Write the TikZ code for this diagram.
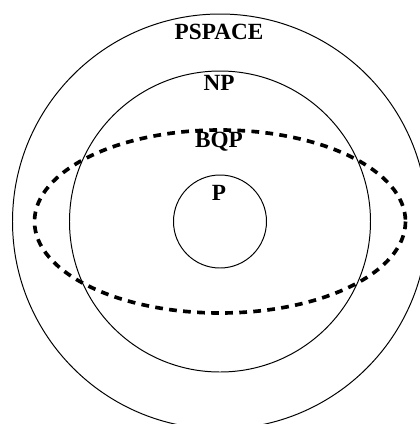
\documentclass[tikz,border=0pt]{standalone}
\usepackage{fontspec}
\setmainfont{Liberation Serif}
\tikzset{
  cls/.style={line width=.7pt},
  bqpline/.style={line width=2.6pt,dash pattern=on 5.5pt off 4.5pt},
  lbl/.style={font=\fontsize{16.5}{19}\selectfont\bfseries,inner sep=0pt}
}
\begin{document}
\begin{tikzpicture}[x=.025cm,y=-.025cm]
  \useasboundingbox (0,0) rectangle (420,424);
  \coordinate (c) at (220,221.5);
  \draw[cls] (c) circle[radius=207.5];
  \draw[cls] (c) circle[radius=150.5];
  \draw[cls] (c) circle[radius=46.5];
  \node[lbl] (pspace) at (219,32){PSPACE};
  \node[lbl] (np) at (219,83){NP};
  \node[lbl] (bqp) at (219,142){BQP};
  \node[lbl] (p) at (219,193){P};
  \draw[bqpline] (c) ellipse[x radius=185.5,y radius=91.5];
\end{tikzpicture}
\end{document}
